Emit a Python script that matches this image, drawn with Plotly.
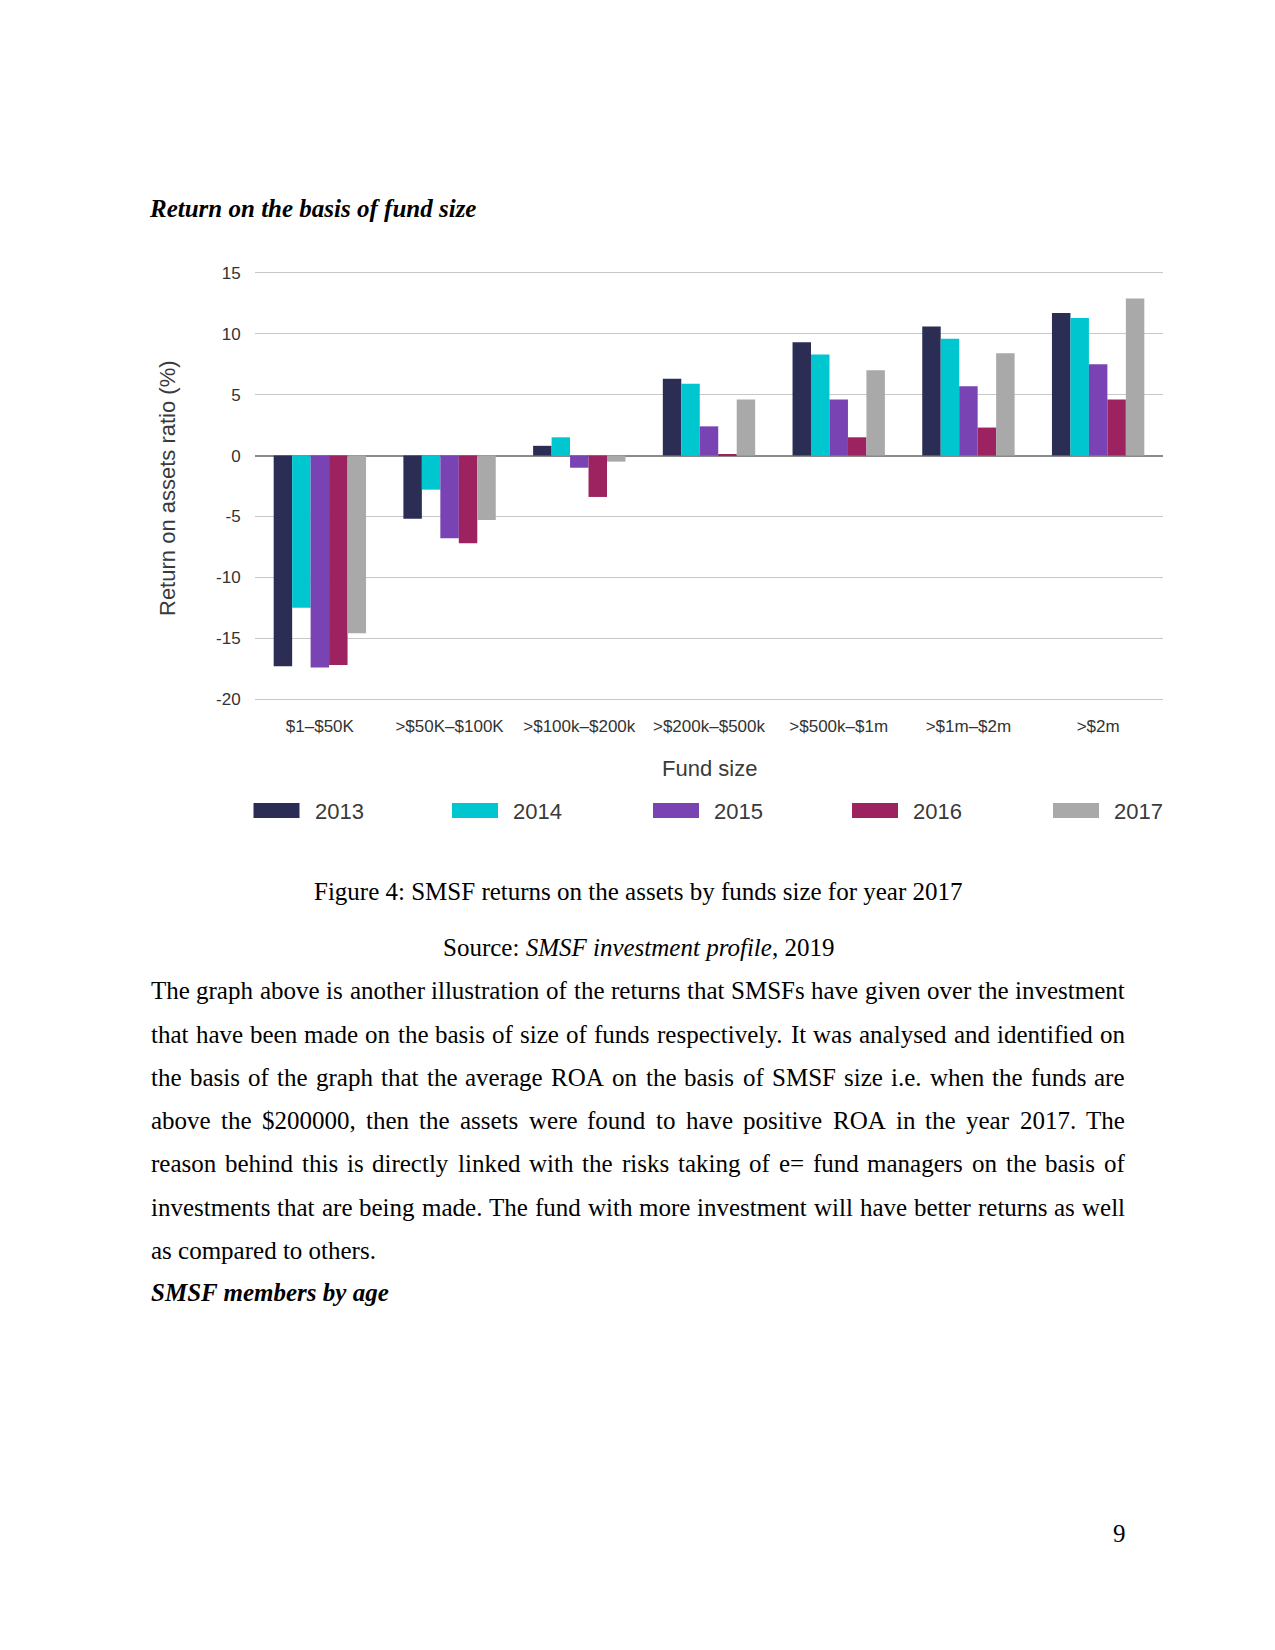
import plotly.graph_objects as go

# ---------------- data ----------------
fund_sizes = ["$1–$50K", ">$50K–$100K", ">$100k–$200k", ">$200k–$500k",
              ">$500k–$1m", ">$1m–$2m", ">$2m"]
years = ["2013", "2014", "2015", "2016", "2017"]
roa_2013 = [-17.3, -5.2, 0.8, 6.3, 9.3, 10.6, 11.7]
roa_2014 = [-12.5, -2.8, 1.5, 5.9, 8.3, 9.6, 11.3]
roa_2015 = [-17.4, -6.8, -1.0, 2.4, 4.6, 5.7, 7.5]
roa_2016 = [-17.2, -7.2, -3.4, 0.1, 1.5, 2.3, 4.6]
roa_2017 = [-14.6, -5.3, -0.5, 4.6, 7.0, 8.4, 12.9]
series = [roa_2013, roa_2014, roa_2015, roa_2016, roa_2017]
colors = ["#2b2d55", "#00c6cf", "#7943b3", "#9c2260", "#a9a9a9"]
y_ticks = [15, 10, 5, 0, -5, -10, -15, -20]
y_tick_labels = ["15", "10", "5", "0", "-5", "-10", "-15", "-20"]

# ---------------- page geometry (pixels) ----------------
W, H = 1275, 1650
PL, PR, PT, PB = 255, 1163, 271, 701  # plot area


def px(x):
    return (x - PL) / (PR - PL)


def py(y):
    return (PB - y) / (PB - PT)


SANS = "Liberation Sans"
SERIF = "Liberation Serif"

fig = go.Figure()
for yr, vals, col in zip(years, series, colors):
    fig.add_trace(go.Bar(x=fund_sizes, y=vals, name=yr, marker_color=col,
                         marker_line_width=0, showlegend=False))

fig.update_layout(
    width=W, height=H,
    margin=dict(l=PL, r=W - PR, t=PT, b=H - PB, pad=0),
    paper_bgcolor="white", plot_bgcolor="white",
    barmode="group", bargap=0.288, bargroupgap=0,
    font=dict(family=SANS, color="#3a3a3a"),
    xaxis=dict(type="category", showgrid=False, showline=False, zeroline=False,
               ticks="outside", ticklen=10, tickcolor="rgba(0,0,0,0)",
               tickfont=dict(size=17, color="#333333", family=SANS)),
    yaxis=dict(range=[-20.16, 15.16], tickvals=y_ticks, ticktext=y_tick_labels,
               showgrid=True, gridcolor="#c8c8c8", gridwidth=1.3, zeroline=True,
               zerolinecolor="#8a8a8a", zerolinewidth=1.5, showline=False,
               ticks="outside", ticklen=10, tickcolor="rgba(0,0,0,0)",
               tickfont=dict(size=17, color="#333333", family=SANS)),
)

ann = []
shapes = []
# axis titles
ann.append(dict(text="Return on assets ratio (%)", textangle=-90, x=px(167), y=py(488),
                xref="paper", yref="paper", xanchor="center", yanchor="middle",
                showarrow=False, font=dict(size=22, color="#3a3a3a", family=SANS)))
ann.append(dict(text="Fund size", x=px(709.5), y=py(768), xref="paper", yref="paper",
                xanchor="center", yanchor="middle", showarrow=False,
                font=dict(size=22, color="#3a3a3a", family=SANS)))

# custom legend
leg_x = [253.5, 452, 653, 852, 1053]
for lx, yr, col in zip(leg_x, years, colors):
    shapes.append(dict(type="rect", xref="paper", yref="paper",
                       x0=px(lx), x1=px(lx + 46), y0=py(818), y1=py(803),
                       fillcolor=col, line_width=0))
    ann.append(dict(text=yr, x=px(lx + 59), y=py(811), xref="paper", yref="paper",
                    xanchor="left", yanchor="middle", showarrow=False,
                    font=dict(size=22, color="#3a3a3a", family=SANS)))

# ---------------- document text ----------------
def doc_text(text, x, y, size=25, xanchor="left", bold=False, italic=False):
    t = text
    if italic:
        t = "<i>" + t + "</i>"
    if bold:
        t = "<b>" + t + "</b>"
    ann.append(dict(text=t, x=px(x), y=py(y), xref="paper", yref="paper",
                    xanchor=xanchor, yanchor="middle", showarrow=False,
                    font=dict(size=size, color="black", family=SERIF)))


doc_text("Return on the basis of fund size", 147, 208, bold=True, italic=True)
doc_text("Figure 4: SMSF returns on the assets by funds size for year 2017", 638, 891.5,
         xanchor="center")
doc_text("Source: <i>SMSF investment profile</i>, 2019", 638, 947.5, xanchor="center")

TIMES = {' ': 250, 'a': 444, 'b': 500, 'c': 444, 'd': 500, 'e': 444, 'f': 333, 'g': 500,
         'h': 500, 'i': 278, 'j': 278, 'k': 500, 'l': 278, 'm': 778, 'n': 500, 'o': 500,
         'p': 500, 'q': 500, 'r': 333, 's': 389, 't': 278, 'u': 500, 'v': 500, 'w': 722,
         'x': 500, 'y': 500, 'z': 444, 'A': 722, 'B': 667, 'C': 667, 'D': 722, 'E': 611,
         'F': 556, 'G': 722, 'H': 722, 'I': 333, 'J': 389, 'K': 722, 'L': 611, 'M': 889,
         'N': 722, 'O': 722, 'P': 556, 'Q': 722, 'R': 667, 'S': 556, 'T': 611, 'U': 722,
         'V': 722, 'W': 944, 'X': 722, 'Y': 722, 'Z': 611, '.': 250, ',': 250, '$': 500,
         '=': 564, ':': 278, '-': 333}
for d in "0123456789":
    TIMES[d] = 500


def word_w(w, size):
    return sum(TIMES.get(c, 500) for c in w) * size / 1000.0


body_lines = [
    "The graph above is another illustration of the returns that SMSFs have given over the investment",
    "that have been made on the basis of size of funds respectively. It was analysed and identified on",
    "the basis of the graph that the average ROA on the basis of SMSF size i.e. when the funds are",
    "above the $200000, then the assets were found to have positive ROA in the year 2017. The",
    "reason behind this is directly linked with the risks taking of e= fund managers on the basis of",
    "investments that are being made. The fund with more investment will have better returns as well",
    "as compared to others.",
]
body_y = [990, 1034, 1077.5, 1120.5, 1163.5, 1207, 1250]
LEFT, RIGHT, FS = 149, 1123, 25
for i, (line, yy) in enumerate(zip(body_lines, body_y)):
    if i == len(body_lines) - 1:
        doc_text(line, LEFT, yy)
        continue
    words = line.split(" ")
    widths = [word_w(w, FS) for w in words]
    gap = (RIGHT - LEFT - sum(widths)) / (len(words) - 1)
    xcur = LEFT
    for w, ww in zip(words, widths):
        doc_text(w, xcur, yy)
        xcur += ww + gap

doc_text("SMSF members by age", 149, 1292, bold=True, italic=True)
doc_text("9", 1128, 1533, xanchor="right")

fig.update_layout(annotations=ann, shapes=shapes)

fig.write_html("out.html", config={"displayModeBar": False, "responsive": False},
               post_script="document.body.style.margin='0';document.body.style.overflow='hidden';")
